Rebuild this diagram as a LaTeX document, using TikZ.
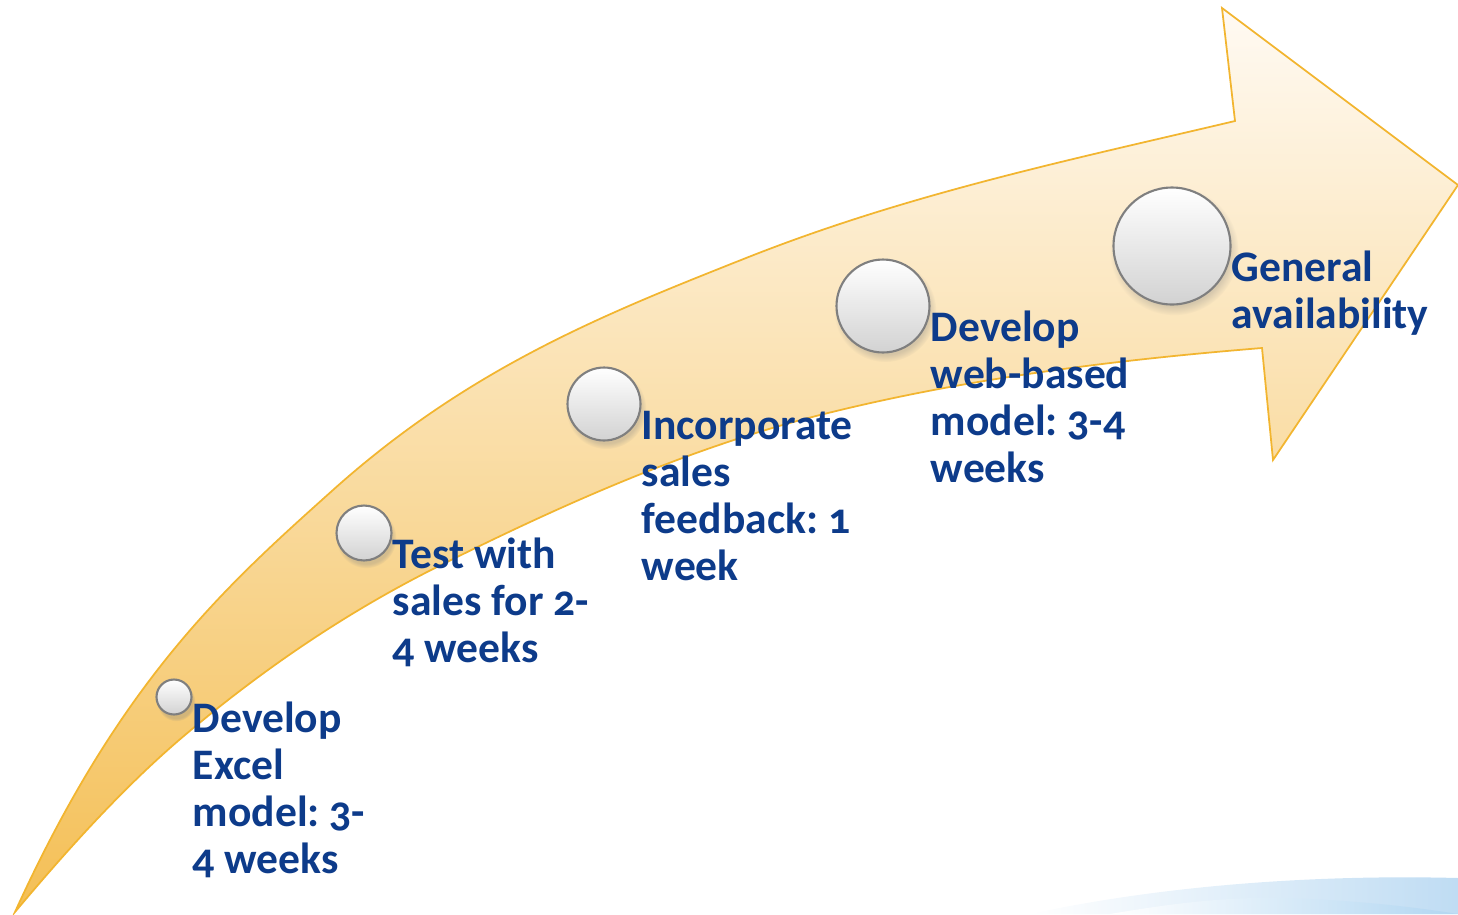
\documentclass[tikz,border=0pt]{standalone}
\usepackage{fontspec}
\setmainfont{Carlito}[Numbers=OldStyle]
\usepackage{tikz}
\usetikzlibrary{positioning,shadows}
\frenchspacing
\definecolor{ink}{HTML}{0D3B8A}
\definecolor{rim}{HTML}{F2B530}
\definecolor{glow}{HTML}{F4BF55}
\definecolor{peach}{HTML}{FCDA9A}
\definecolor{pale}{HTML}{FFFAF3}
\definecolor{pearl}{HTML}{D2D2D2}
\definecolor{edge}{HTML}{7F7F7F}
\definecolor{skyA}{HTML}{BFDCF3}
\definecolor{skyB}{HTML}{9ECCEE}

\begin{document}
\begin{tikzpicture}[x=0.02cm,y=-0.02cm,
 stage/.style={circle,draw=edge,line width=1.2pt,inner sep=0pt,
 top color=white,bottom color=pearl,
 circular drop shadow={shadow xshift=0.4mm,shadow yshift=-0.9mm,opacity=0.3}},
 lbl/.style={text=ink,font=\bfseries\fontsize{24.8}{26.75}\selectfont,
 align=left,inner sep=0pt}]
\useasboundingbox (0,0) rectangle (1458,914);
% blue swoosh in the lower right corner
\shade[left color=white,middle color=skyA!80,right color=skyA] (1030,914) .. controls (1150,888) and (1300,874) .. (1458,878) -- (1458,914) -- cycle;
\shade[left color=white,middle color=skyB!85,right color=skyB!80] (1110,914) .. controls (1180,902) and (1230,897) .. (1280,898) .. controls (1360,900) and (1420,908) .. (1458,914) -- cycle;
% the rising arrow
\shadedraw[draw=rim,line width=1pt,top color=pale,middle color=peach,bottom color=glow]
 (15,912) .. controls (121,679) and (227,585) .. (333,490)
 .. controls (469,368) and (605,314) .. (741,260)
 .. controls (906,194) and (1070,160) .. (1235,121)
 -- (1222,8) -- (1458,185) -- (1273,460) -- (1262,348)
 .. controls (1115,360) and (967,378) .. (820,415)
 .. controls (692,447) and (565,503) .. (437,567)
 .. controls (353,609) and (269,664) .. (185,735)
 .. controls (128,783) and (72,844) .. (15,912) -- cycle;
% milestones
\node[stage,minimum size=0.70cm] (c1) at (174,697) {};
\node[stage,minimum size=1.10cm] (c2) at (364,533) {};
\node[stage,minimum size=1.46cm] (c3) at (604,404) {};
\node[stage,minimum size=1.86cm] (c4) at (883,306) {};
\node[stage,minimum size=2.34cm] (c5) at (1172,246) {};
\node[lbl,below right=0.4mm and 0mm of c1.east] (t1) {\strut Develop\\Excel\\model: 3-\\4 weeks};
\node[lbl,below right=0.4mm and 0mm of c2.east] (t2) {\strut Test with\\sales for 2-\\4 weeks};
\node[lbl,below right=0.4mm and 0mm of c3.east] (t3) {\strut Incorporate\\sales\\feedback: 1\\week};
\node[lbl,below right=0.4mm and 0mm of c4.east] (t4) {\strut Develop\\web-based\\model: 3-4\\weeks};
\node[lbl,below right=0.4mm and 0mm of c5.east] (t5) {\strut General\\availability};
\end{tikzpicture}
\end{document}
